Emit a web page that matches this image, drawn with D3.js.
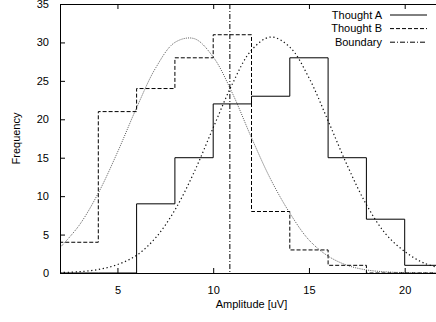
<!DOCTYPE html>
<html>
<head>
<meta charset="utf-8">
<script src="https://cdn.jsdelivr.net/npm/d3@7"></script>
<style>
  body { margin: 0; background: #fff; }
  text { font-family: "Liberation Sans", Arial, sans-serif; font-size: 11px; fill: #000; }
</style>
</head>
<body>
<div id="chart"></div>
<script>
// histogram bins (amplitude, uV)
const binEdges = [2, 4, 6, 8, 10, 12, 14, 16, 18, 20, 22];
const thoughtA = [0, 0, 9, 15, 22, 23, 28, 15, 7, 1];
const thoughtB = [4, 21, 24, 28, 31, 8, 3, 1, 0, 0];

// fitted curves at integer amplitudes
const curveX = [2, 3, 4, 5, 6, 7, 8, 9, 10, 11, 12, 13, 14, 15, 16, 17, 18, 19, 20, 21, 22];
const fitA = [0.06, 0.17, 0.45, 1.1, 2.3, 4.6, 8.2, 13.1, 18.9, 24.6, 29.0, 30.7, 29.4, 25.4, 19.8, 14.0, 8.9, 5.1, 2.8, 1.3, 0.55];
const fitB = [3.3, 6.2, 10.4, 15.7, 21.5, 26.7, 30.0, 30.5, 28.1, 23.4, 17.6, 12.2, 7.8, 4.3, 2.2, 1.0, 0.4, 0.15, 0.05, 0.01, 0];

const boundary = 10.87;

const xTicks = [5, 10, 15, 20];
const yTicks = [0, 5, 10, 15, 20, 25, 30, 35];
const legendItems = [
    { name: "Thought A", dash: null },
    { name: "Thought B", dash: "4,2" },
    { name: "Boundary", dash: "5,2,1,2" }
];

const W = 436, H = 322;
const pLeft = 60, pTop = 4, pRight = 443, pBottom = 273;

const svg = d3.select("#chart").append("svg")
    .attr("width", W)
    .attr("height", H);

const x = d3.scaleLinear().domain([2, 22]).range([pLeft, pRight]);
const y = d3.scaleLinear().domain([0, 35]).range([pBottom, pTop]);

svg.append("defs").append("clipPath").attr("id", "plot")
    .append("rect")
    .attr("x", pLeft).attr("y", pTop)
    .attr("width", pRight - pLeft).attr("height", pBottom - pTop);

const plot = svg.append("g").attr("clip-path", "url(#plot)");

// step outline for each histogram
function steps(values) {
    const pts = binEdges.map((e, i) => [e, i < values.length ? values[i] : values[values.length - 1]]);
    return [[binEdges[0], 0]].concat(pts);
}
const stepLine = d3.line()
    .x(d => x(d[0]))
    .y(d => y(d[1]))
    .curve(d3.curveStepAfter);

const smoothLine = d3.line()
    .x(d => x(d[0]))
    .y(d => y(d[1]))
    .curve(d3.curveCatmullRom);

plot.append("path")
    .attr("d", smoothLine(curveX.map((v, i) => [v, fitB[i]])))
    .attr("fill", "none")
    .attr("stroke", "#555")
    .attr("stroke-width", 1)
    .attr("stroke-dasharray", "1,1.2");

plot.append("path")
    .attr("d", smoothLine(curveX.map((v, i) => [v, fitA[i]])))
    .attr("fill", "none")
    .attr("stroke", "#111")
    .attr("stroke-width", 1.2)
    .attr("stroke-dasharray", "1.3,2.6");

plot.append("path")
    .attr("d", stepLine(steps(thoughtB)))
    .attr("fill", "none")
    .attr("stroke", "#000")
    .attr("stroke-width", 1)
    .attr("stroke-dasharray", "4,2");

plot.append("path")
    .attr("d", stepLine(steps(thoughtA)))
    .attr("fill", "none")
    .attr("stroke", "#000")
    .attr("stroke-width", 1);

plot.append("line")
    .attr("x1", x(boundary)).attr("x2", x(boundary))
    .attr("y1", y(35)).attr("y2", y(0))
    .attr("stroke", "#000")
    .attr("stroke-width", 1)
    .attr("stroke-dasharray", "5,2,1,2");

// axes: inward ticks, mirrored on top
svg.append("g")
    .attr("transform", `translate(0,${pBottom})`)
    .call(d3.axisBottom(x).tickValues(xTicks).tickSizeInner(-5).tickSizeOuter(0).tickPadding(13))
    .call(g => g.select(".domain").remove())
    .call(g => g.selectAll("text").style("font-size", "11px").style("font-family", "Liberation Sans, Arial, sans-serif"));

svg.append("g")
    .attr("transform", `translate(0,${pTop})`)
    .call(d3.axisTop(x).tickValues(xTicks).tickSizeInner(-5).tickSizeOuter(0))
    .call(g => g.select(".domain").remove())
    .call(g => g.selectAll("text").remove());

svg.append("g")
    .attr("transform", `translate(${pLeft},0)`)
    .call(d3.axisLeft(y).tickValues(yTicks).tickSizeInner(-5).tickSizeOuter(0).tickPadding(11))
    .call(g => g.select(".domain").remove())
    .call(g => g.selectAll("text").style("font-size", "11px").style("font-family", "Liberation Sans, Arial, sans-serif"));

svg.append("rect")
    .attr("x", pLeft + 0.5).attr("y", pTop + 0.5)
    .attr("width", pRight - pLeft).attr("height", pBottom - pTop)
    .attr("fill", "none")
    .attr("stroke", "#000")
    .attr("stroke-width", 1);

// axis titles
svg.append("text")
    .attr("x", (pLeft + pRight) / 2)
    .attr("y", 308)
    .attr("text-anchor", "middle")
    .text("Amplitude [uV]");

svg.append("text")
    .attr("transform", `translate(20,${(pTop + pBottom) / 2}) rotate(-90)`)
    .attr("text-anchor", "middle")
    .text("Frequency");

// legend
const legend = svg.append("g");
legendItems.forEach((d, i) => {
    const ly = 15 + i * 13.6;
    legend.append("text")
        .attr("x", 382)
        .attr("y", ly)
        .attr("dy", "0.35em")
        .attr("text-anchor", "end")
        .text(d.name);
    legend.append("line")
        .attr("x1", 390).attr("x2", 427)
        .attr("y1", ly).attr("y2", ly)
        .attr("stroke", "#000")
        .attr("stroke-width", 1)
        .attr("stroke-dasharray", d.dash);
});
</script>
</body>
</html>
